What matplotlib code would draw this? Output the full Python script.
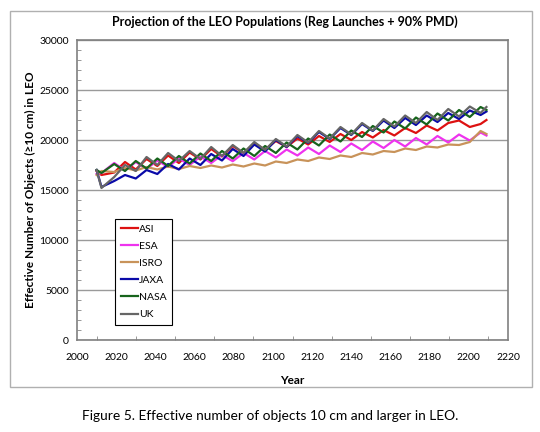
import numpy as np
import matplotlib
matplotlib.use('Agg')
import matplotlib.pyplot as plt
from matplotlib.patches import Rectangle

plt.rcParams['font.family'] = ['Lato', 'DejaVu Sans']

# half-cycle sample years (peaks / troughs of the solar cycle)
years = [2010, 2012.5, 2019, 2024.5, 2030, 2035.5, 2041, 2046.5, 2052, 2057.5,
         2063, 2068.5, 2074, 2079.5, 2085, 2090.5, 2096, 2101.5, 2107, 2112.5,
         2118, 2123.5, 2129, 2134.5, 2140, 2145.5, 2151, 2156.5, 2162, 2167.5,
         2173, 2178.5, 2184, 2189.5, 2195, 2200.5, 2206, 2209]

asi = [16900, 16500, 16750, 17800, 17050, 18100, 17400, 18450, 17700, 18750,
       18050, 19100, 18350, 19400, 18700, 19650, 19050, 19900, 19300, 20150,
       19550, 20400, 19800, 20600, 20000, 20800, 20250, 21000, 20450, 21200,
       20700, 21450, 20950, 21700, 21950, 21300, 21600, 22000]
esa = [16600, 16700, 17700, 16950, 17800, 17100, 17950, 17300, 18150, 17500,
       18350, 17700, 18500, 17880, 18700, 18050, 18900, 18250, 19050, 18450,
       19250, 18600, 19450, 18800, 19650, 19000, 19850, 19200, 20000, 19350,
       20200, 19550, 20400, 19750, 20550, 19950, 20750, 20450]
isro = [16500, 16900, 16800, 17200, 16950, 17300, 17050, 17350, 17100, 17400,
        17200, 17450, 17250, 17550, 17350, 17650, 17450, 17850, 17700, 18050,
        17900, 18250, 18100, 18450, 18300, 18700, 18550, 18900, 18800, 19150,
        19000, 19350, 19250, 19550, 19500, 19800, 20900, 20600]
jaxa = [17000, 15300, 15900, 16500, 16150, 17000, 16600, 17600, 17050, 18150,
        17500, 18600, 17950, 19100, 18400, 19550, 18850, 20000, 19300, 20400,
        19700, 20800, 20100, 21200, 20500, 21600, 20900, 21950, 21200, 22200,
        21500, 22450, 21800, 22700, 22100, 22950, 22500, 22850]
nasa = [17000, 16700, 17600, 16900, 17900, 17150, 18150, 17400, 18400, 17650,
        18650, 17900, 18900, 18150, 19150, 18400, 19400, 18700, 19750, 19050,
        20150, 19450, 20550, 19850, 20950, 20300, 21400, 20750, 21850, 21150,
        22250, 21550, 22650, 21950, 23000, 22300, 23300, 23000]
uk = [17000, 15200, 16300, 17500, 16900, 18300, 17500, 18700, 17900, 18900,
      18100, 19300, 18400, 19500, 18700, 19800, 19000, 20100, 19350, 20500,
      19750, 20900, 20150, 21300, 20550, 21700, 20950, 22100, 21350, 22450,
      21700, 22800, 22000, 23100, 22350, 23350, 22700, 23300]

labels = ['ASI', 'ESA', 'ISRO', 'JAXA', 'NASA', 'UK']
colors = ['#dd1111', '#ee33ee', '#c8935a', '#0a0aa8', '#17641c', '#666666']
series = [asi, esa, isro, jaxa, nasa, uk]

fig = plt.figure(figsize=(5.4, 4.32), dpi=100)
fig.patches.append(Rectangle((10 / 540, 1 - 387 / 432), 522 / 540, 376 / 432,
                             transform=fig.transFigure, fill=False,
                             edgecolor='#b0b0b0', linewidth=1))

ax = fig.add_axes([77 / 540, 92 / 432, 431 / 540, 300 / 432])

for vals, lab, col in zip(series, labels, colors):
    ax.plot(years, vals, color=col, linewidth=1.6, label=lab)

ax.set_xlim(2000, 2220)
ax.set_ylim(0, 30000)
ax.set_xticks(np.arange(2000, 2221, 20))
ax.set_xticks(np.arange(2000, 2221, 10), minor=True)
ax.set_yticks(np.arange(0, 30001, 5000))
ax.set_yticks(np.arange(0, 30001, 1000), minor=True)
ax.yaxis.grid(True, color='#9a9a9a', linewidth=1)
ax.set_axisbelow(True)
ax.tick_params(axis='both', which='both', direction='in', labelsize=7.5, color='#888888')
ax.tick_params(axis='x', which='major', length=0, pad=9)
ax.tick_params(axis='x', which='minor', length=3)
ax.tick_params(axis='y', which='major', length=0, pad=6)
ax.tick_params(axis='y', which='minor', length=3)
for sp in ax.spines.values():
    sp.set_color('#808080')
    sp.set_linewidth(1.2)

ax.set_xlabel('Year', fontsize=8.5, fontweight='bold', labelpad=10)
ax.set_ylabel('Effective Number of Objects (\u226510 cm) in LEO', fontsize=8.5,
              fontweight='bold', labelpad=2)

fig.text(285 / 540, 1 - 22 / 432, 'Projection of the LEO Populations (Reg Launches + 90% PMD)',
         ha='center', va='center', fontsize=9, fontweight='bold')
fig.text(0.5, 1 - 416 / 432, 'Figure 5. Effective number of objects 10 cm and larger in LEO.',
         ha='center', va='center', fontsize=9.9)

leg = ax.legend(loc='lower left', bbox_to_anchor=(0.077, 0.033), fontsize=7.5,
                handlelength=1.6, handletextpad=0.1, labelspacing=0.75,
                borderpad=0.55, fancybox=False, framealpha=1)
leg.get_frame().set_edgecolor('black')
leg.get_frame().set_linewidth(0.8)

fig.savefig('out.png', dpi=100)
